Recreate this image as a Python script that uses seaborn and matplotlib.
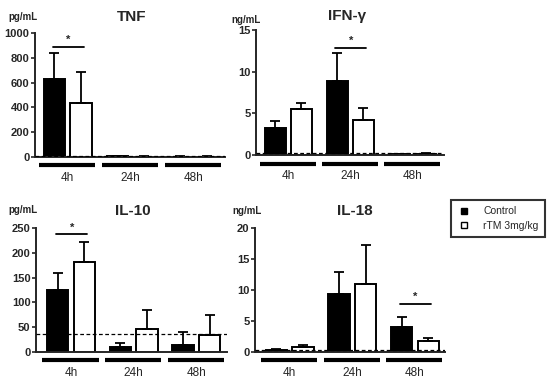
import numpy as np
import pandas as pd
import matplotlib
matplotlib.use('Agg')
import matplotlib.pyplot as plt
import seaborn as sns
from matplotlib.lines import Line2D
from matplotlib.transforms import blended_transform_factory

sns.set_style('ticks')
plt.rcParams['font.family'] = ['Liberation Sans', 'DejaVu Sans']

# data (mean and upper SD)
times = ['4h', '24h', '48h']
groups = ['Control', 'rTM 3mg/kg']

tnf_ctrl = [630, 5, 4]
tnf_ctrl_sd = [210, 2, 2]
tnf_rtm = [435, 4, 4]
tnf_rtm_sd = [250, 2, 2]

ifn_ctrl = [3.3, 8.9, 0.1]
ifn_ctrl_sd = [0.8, 3.4, 0.05]
ifn_rtm = [5.5, 4.2, 0.15]
ifn_rtm_sd = [0.7, 1.5, 0.05]

il10_ctrl = [124, 10, 15]
il10_ctrl_sd = [36, 9, 25]
il10_rtm = [181, 47, 34]
il10_rtm_sd = [40, 37, 41]

il18_ctrl = [0.4, 9.4, 4.0]
il18_ctrl_sd = [0.1, 3.5, 1.6]
il18_rtm = [0.8, 10.9, 1.7]
il18_rtm_sd = [0.4, 6.4, 0.5]

panels = [
    dict(title='TNF', unit='pg/mL', ctrl=tnf_ctrl, csd=tnf_ctrl_sd, rtm=tnf_rtm, rsd=tnf_rtm_sd,
         ymax=1000, yt=[0, 200, 400, 600, 800, 1000], lod=8, sig=(0, 890),
         box=(35, 225, 33, 157), xl=(-0.52, 2.5), tpos=(132, 17), upos=(8, 17)),
    dict(title='IFN-γ', unit='ng/mL', ctrl=ifn_ctrl, csd=ifn_ctrl_sd, rtm=ifn_rtm, rsd=ifn_rtm_sd,
         ymax=15, yt=[0, 5, 10, 15], lod=0.28, sig=(1, 12.9),
         box=(256, 444, 30, 155), xl=(-0.52, 2.51), tpos=(347, 16), upos=(231, 20)),
    dict(title='IL-10', unit='pg/mL', ctrl=il10_ctrl, csd=il10_ctrl_sd, rtm=il10_rtm, rsd=il10_rtm_sd,
         ymax=250, yt=[0, 50, 100, 150, 200, 250], lod=36, sig=(0, 237),
         box=(36, 227, 228, 352), xl=(-0.56, 2.49), tpos=(133, 211), upos=(8, 210)),
    dict(title='IL-18', unit='ng/mL', ctrl=il18_ctrl, csd=il18_ctrl_sd, rtm=il18_rtm, rsd=il18_rtm_sd,
         ymax=20, yt=[0, 5, 10, 15, 20], lod=0.35, sig=(2, 7.8),
         box=(255, 445, 228, 352), xl=(-0.555, 2.48), tpos=(355, 211), upos=(232, 211)),
]

W, H = 550, 389
fig = plt.figure(figsize=(5.5, 3.89), dpi=100)
palette = {'Control': 'black', 'rTM 3mg/kg': 'white'}

for p in panels:
    x0, x1, y0, y1 = p['box']
    ax = fig.add_axes([x0 / W, 1 - y1 / H, (x1 - x0) / W, (y1 - y0) / H])
    df = pd.DataFrame({
        'time': times * 2,
        'group': [groups[0]] * 3 + [groups[1]] * 3,
        'value': p['ctrl'] + p['rtm'],
    })
    sns.barplot(data=df, x='time', y='value', hue='group', order=times, hue_order=groups,
                palette=palette, edgecolor='black', linewidth=1.4, width=0.85, gap=0.2,
                errorbar=None, legend=False, ax=ax)
    for cont, sd in zip(ax.containers, [p['csd'], p['rsd']]):
        xs = [b.get_x() + b.get_width() / 2 for b in cont]
        ys = [b.get_height() for b in cont]
        ax.errorbar(xs, ys, yerr=[np.zeros(3), sd], fmt='none', ecolor='black',
                    elinewidth=1.3, capsize=3.8, capthick=1.3, zorder=1)
    ax.set_xlim(*p['xl'])
    ax.set_ylim(0, p['ymax'])
    ax.set_yticks(p['yt'])
    ax.axhline(p['lod'], color='black', lw=0.9, ls=(0, (3, 2)), zorder=3)
    ax.set_xlabel('')
    ax.set_ylabel('')
    sns.despine(ax=ax)
    for s in ['left', 'bottom']:
        ax.spines[s].set_linewidth(1.4)
    ax.tick_params(axis='y', length=3, width=1.2, pad=1, labelsize=8)
    ax.tick_params(axis='x', length=0, pad=11, labelsize=8.5)
    for lab in ax.get_yticklabels():
        lab.set_fontweight('bold')
    tr = blended_transform_factory(ax.transData, ax.transAxes)
    for i in range(3):
        ax.plot([i - 0.46, i + 0.44], [-0.068, -0.068], transform=tr, color='black',
                lw=3, solid_capstyle='butt', clip_on=False)
    gi, sy = p['sig']
    ax.plot([gi - 0.24, gi + 0.26], [sy, sy], color='black', lw=1.3, clip_on=False)
    ax.text(gi + 0.01, sy + p['ymax'] * 0.015, '*', ha='center', va='bottom',
            fontsize=8, fontweight='bold')
    fig.text(p['tpos'][0] / W, 1 - p['tpos'][1] / H, p['title'], ha='center', va='center',
             fontsize=11, fontweight='bold')
    fig.text(p['upos'][0] / W, 1 - p['upos'][1] / H, p['unit'], ha='left', va='center',
             fontsize=7, fontweight='bold')

handles = [Line2D([], [], marker='s', ls='none', markersize=5, markerfacecolor=palette[g],
                  markeredgecolor='black', markeredgewidth=1) for g in groups]
leg = fig.legend(handles, groups, loc='upper left', bbox_to_anchor=(451 / W, 1 - 200 / H),
                 frameon=True, fancybox=False, fontsize=7.5, handlelength=1.2,
                 borderpad=0.6, labelspacing=0.45, handletextpad=1.3, borderaxespad=0)
leg.get_frame().set_edgecolor('black')
leg.get_frame().set_linewidth(1.5)

fig.savefig('out.png', dpi=100)
